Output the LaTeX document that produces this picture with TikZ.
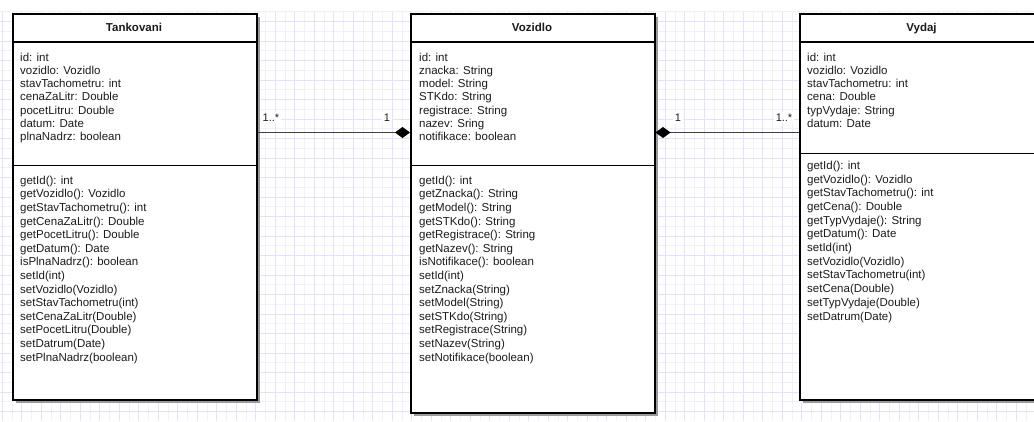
\documentclass[tikz,border=0pt]{standalone}
\usepackage{fontspec}
\setmainfont{Liberation Sans}
\usetikzlibrary{arrows.meta,shadows}

\definecolor{txt}{HTML}{1C1C1C}
\definecolor{majorgrid}{HTML}{E2E2FA}
\definecolor{minorgrid}{HTML}{EFEFFD}
\definecolor{shadowgray}{HTML}{9A9A9A}
\definecolor{linegray}{HTML}{404040}

\begin{document}
\begin{tikzpicture}[x=1pt,y=-1pt,
  every node/.style={inner sep=0pt,text=txt},
  member/.style={anchor=base west,font=\fontsize{11.5}{13.6}\selectfont},
  classname/.style={anchor=base,font=\fontsize{11.5}{13.6}\selectfont\bfseries},
  classbox/.style={draw=black,line width=1.5pt,fill=white,anchor=north west,
    minimum width=244pt,
    drop shadow={shadow xshift=3pt,shadow yshift=-3pt,opacity=1,fill=shadowgray}},
  divider/.style={draw=black,line width=1.5pt},
  assoc/.style={draw=linegray,line width=1.2pt,
    -{Diamond[length=15pt,width=11pt,color=black,fill=black]}},
  mult/.style={anchor=base,font=\fontsize{11}{13}\selectfont,fill=white,
    inner xsep=1.5pt,inner ysep=1.5pt},
  gridmajor/.style={draw=majorgrid,line width=0.9pt},
  gridminor/.style={draw=minorgrid,line width=0.9pt}
]
\useasboundingbox (0,0) rectangle (1034,421);
\clip (0,0) rectangle (1034,421);

% background grid
\foreach \i in {0,...,52} \draw[gridminor] ({12.05+19.5*\i},11.75) -- ({12.05+19.5*\i},421);
\foreach \i in {0,...,20} \draw[gridminor] (0,{11.75+19.5*\i}) -- (1034,{11.75+19.5*\i});
\foreach \i in {0,...,53} \draw[gridmajor] ({2.3+19.5*\i},11.75) -- ({2.3+19.5*\i},421);
\foreach \i in {1,...,21} \draw[gridmajor] (0,{2+19.5*\i}) -- (1034,{2+19.5*\i});

% class boxes
\node[classbox,minimum height=386pt] (tank) at (12,13) {};
\node[classbox,minimum height=399pt] (voz) at (410,13) {};
\node[classbox,minimum height=386pt] (vydaj) at (799,13) {};

% compartment dividers
\draw[divider] (tank.west |- 0,42) -- (tank.east |- 0,42);
\draw[divider] (tank.west |- 0,165.7) -- (tank.east |- 0,165.7);
\draw[divider] (voz.west |- 0,42) -- (voz.east |- 0,42);
\draw[divider] (voz.west |- 0,165.7) -- (voz.east |- 0,165.7);
\draw[divider] (vydaj.west |- 0,42) -- (vydaj.east |- 0,42);
\draw[divider] (vydaj.west |- 0,153.5) -- (vydaj.east |- 0,153.5);

% class names
\node[classname] (tank-name) at (134,31.5) {Tankovani};
\node[classname] (voz-name) at (532,31.5) {Vozidlo};
\node[classname] (vydaj-name) at (921.5,31.5) {Vydaj};

% Tankovani members
\foreach \t [count=\i from 0] in {id: int, vozidlo: Vozidlo, stavTachometru: int,
  cenaZaLitr: Double, pocetLitru: Double, datum: Date, plnaNadrz: boolean}
  \node[member] (tank-a\i) at (20,{61+13.3*\i}) {\t};
\foreach \t [count=\i from 0] in {getId(): int, getVozidlo(): Vozidlo,
  getStavTachometru(): int, getCenaZaLitr(): Double, getPocetLitru(): Double,
  getDatum(): Date, isPlnaNadrz(): boolean, setId(int), setVozidlo(Vozidlo),
  setStavTachometru(int), setCenaZaLitr(Double), setPocetLitru(Double),
  setDatrum(Date), setPlnaNadrz(boolean)}
  \node[member] (tank-m\i) at (20,{184.3+13.6*\i}) {\t};

% Vozidlo members
\foreach \t [count=\i from 0] in {id: int, znacka: String, model: String,
  STKdo: String, registrace: String, nazev: Sring, notifikace: boolean}
  \node[member] (voz-a\i) at (419,{61+13.3*\i}) {\t};
\foreach \t [count=\i from 0] in {getId(): int, getZnacka(): String,
  getModel(): String, getSTKdo(): String, getRegistrace(): String,
  getNazev(): String, isNotifikace(): boolean, setId(int), setZnacka(String),
  setModel(String), setSTKdo(String), setRegistrace(String), setNazev(String),
  setNotifikace(boolean)}
  \node[member] (voz-m\i) at (419,{184.3+13.6*\i}) {\t};

% Vydaj members
\foreach \t [count=\i from 0] in {id: int, vozidlo: Vozidlo, stavTachometru: int,
  cena: Double, typVydaje: String, datum: Date}
  \node[member] (vydaj-a\i) at (807,{61+13.3*\i}) {\t};
\foreach \t [count=\i from 0] in {getId(): int, getVozidlo(): Vozidlo,
  getStavTachometru(): int, getCena(): Double, getTypVydaje(): String,
  getDatum(): Date, setId(int), setVozidlo(Vozidlo), setStavTachometru(int),
  setCena(Double), setTypVydaje(Double), setDatrum(Date)}
  \node[member] (vydaj-m\i) at (807,{169.3+13.7*\i}) {\t};

% composition associations
\draw[assoc] (tank.east |- 0,132.5) -- (voz.west |- 0,132.5);
\draw[assoc] (vydaj.west |- 0,132.5) -- (voz.east |- 0,132.5);

% multiplicities
\node[mult] (m-tank) at (271,121) {1..*};
\node[mult] (m-voz-l) at (387,121) {1};
\node[mult] (m-voz-r) at (678,121) {1};
\node[mult] (m-vydaj) at (784,121) {1..*};
\end{tikzpicture}
\end{document}
